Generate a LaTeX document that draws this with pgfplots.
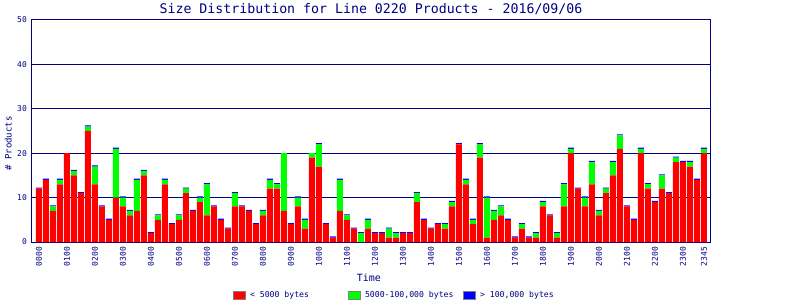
\documentclass[border=0pt]{standalone}
\usepackage{fontspec}
\setmainfont{DejaVu Sans Mono}
\usepackage{pgfplots}
\usepackage{pgfplotstable}
\pgfplotsset{compat=1.18}
\definecolor{navy}{RGB}{0,0,128}
\definecolor{cred}{RGB}{255,0,0}
\definecolor{cgreen}{RGB}{0,255,0}
\definecolor{cblue}{RGB}{0,0,255}
\pgfplotstableread{
i r g b
0 12 0 .25
1 14 0 .25
2 7 1 .25
3 13 1 .25
4 20 0 0
5 15 1 .25
6 11 0 .25
7 25 1 .25
8 13 4 .25
9 8 0 .25
10 5 0 .25
11 10 11 .25
12 8 2 .25
13 6 1 .25
14 7 7 .25
15 15 1 .25
16 2 0 .25
17 5 1 .25
18 13 1 .25
19 4 0 .25
20 5 1 .25
21 11 1 .25
22 7 0 .25
23 9 1 .25
24 6 7 .25
25 8 0 .25
26 5 0 .25
27 3 0 .25
28 8 3 .25
29 8 0 .25
30 7 0 .25
31 4 0 .25
32 6 1 .25
33 12 2 .25
34 12 1 .25
35 7 13 0
36 4 0 .25
37 8 2 .25
38 3 2 .25
39 19 1 0
40 17 5 .25
41 4 0 .25
42 1 0 .25
43 7 7 .25
44 5 1 .25
45 3 0 .25
46 0 2 .25
47 3 2 .25
48 2 0 .25
49 2 0 .25
50 1 2 .25
51 1 1 .25
52 2 0 .25
53 2 0 .25
54 9 2 .25
55 5 0 .25
56 3 0 .25
57 4 0 .25
58 3 1 .25
59 8 1 .25
60 22 0 .25
61 13 1 .25
62 4 1 .25
63 19 3 .25
64 1 9 .25
65 5 2 .25
66 6 2 .25
67 5 0 .25
68 1 0 .25
69 3 1 .25
70 1 0 .25
71 1 1 .25
72 8 1 .25
73 6 0 .25
74 1 1 .25
75 8 5 .25
76 20 1 .25
77 12 0 .25
78 8 2 .25
79 13 5 .25
80 6 1 .25
81 11 1 .25
82 15 3 .25
83 21 3 .25
84 8 0 .25
85 5 0 .25
86 20 1 .25
87 12 1 .25
88 9 0 .25
89 12 3 .25
90 11 0 .25
91 18 1 .25
92 18 0 .25
93 17 1 .25
94 14 0 .25
95 20 1 .25
}\data
\pgfplotsset{mylegend/.style={legend image code/.code={\draw[##1,draw=gray,line width=1bp] (0bp,-3.8bp) rectangle (12bp,3.8bp);}}}
\begin{document}
\begin{tikzpicture}
\begin{axis}[
  at={(0bp,0bp)}, anchor=south west,
  scale only axis, width=678bp, height=222bp,
  ybar stacked, bar width=0.857,
  xmin=-1, xmax=95.86, ymin=0, ymax=50,
  axis line style={navy, line width=1bp},
  ymajorgrids, grid style={navy, line width=1bp},
  major tick length=0pt,
  ytick={0,10,20,30,40,50},
  xtick={0,4,8,12,16,20,24,28,32,36,40,44,48,52,56,60,64,68,72,76,80,84,88,92,95},
  xticklabels={0000,0100,0200,0300,0400,0500,0600,0700,0800,0900,1000,1100,1200,1300,1400,1500,1600,1700,1800,1900,2000,2100,2200,2300,2345},
  /pgf/number format/assume math mode=true,
  xticklabel style={yshift=-5bp, rotate=90, anchor=east, inner sep=0pt, font=\fontsize{8}{9}\selectfont, text=navy},
  yticklabel style={xshift=-5bp, anchor=east, inner sep=0pt, font=\fontsize{8}{9}\selectfont, text=navy},
  every axis title shift=0pt,
  title={Size Distribution for Line 0220 Products - 2016/09/06},
  title style={at={(0.5,1)}, anchor=base, yshift=6.5bp, inner sep=0pt, font=\fontsize{13.3}{15}\selectfont, text=navy},
  xlabel={Time},
  xlabel style={at={(axis description cs:0.497,-0.162)}, anchor=center, inner sep=0pt, font=\fontsize{10}{12}\selectfont, text=navy},
  ylabel={\# Products},
  ylabel style={at={(axis description cs:-0.035,0.444)}, anchor=center, inner sep=0pt, font=\fontsize{9}{10}\selectfont, text=navy},
  mylegend,
  legend columns=3,
  legend style={at={(0.2965,-0.241)}, anchor=west, draw=none, fill=none, inner sep=0pt, outer sep=0pt, column sep=0pt, font=\fontsize{8.2}{9}\selectfont, text=navy, nodes={inner sep=0pt, outer sep=0pt}},
]
\addplot[fill=cred, draw=none, mylegend] table[x=i,y=r]{\data};
\addplot[fill=cgreen, draw=none, mylegend] table[x=i,y=g]{\data};
\addplot[fill=cblue, draw=none, mylegend] table[x=i,y=b]{\data};
\legend{{\hspace*{4bp}\makebox[98bp][l]{< 5000 bytes}},{\hspace*{4bp}\makebox[98bp][l]{5000-100,000 bytes}},{\hspace*{4bp}> 100,000 bytes}}
\end{axis}
\pgfresetboundingbox
\path[use as bounding box] (-32bp,-58bp) rectangle (768bp,242bp);
\end{tikzpicture}
\end{document}
